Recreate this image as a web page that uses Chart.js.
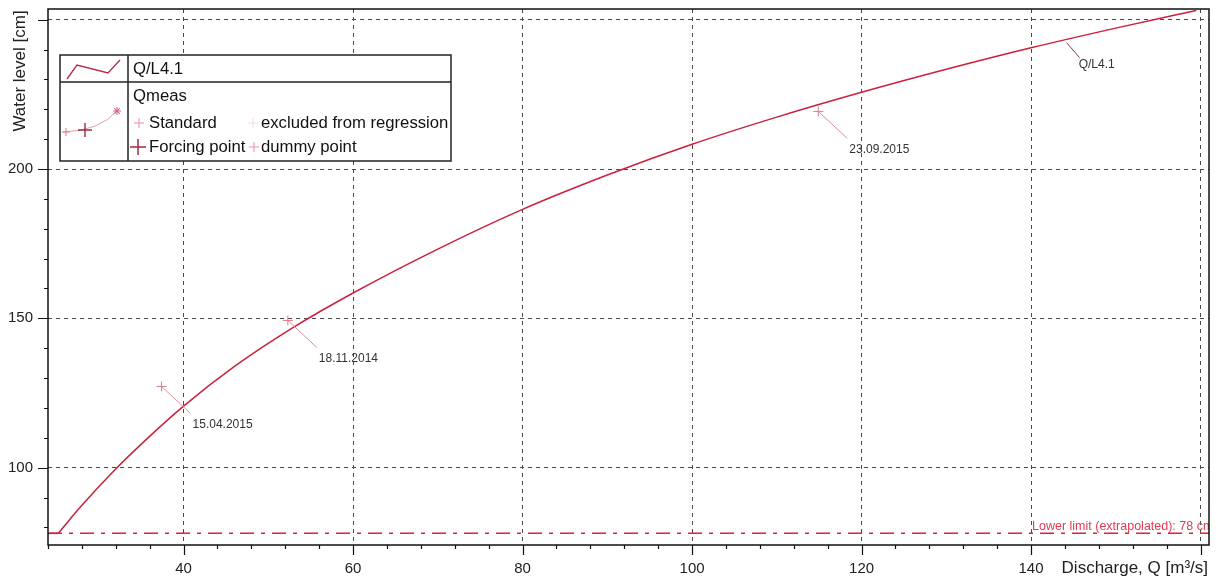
<!DOCTYPE html>
<html>
<head>
<meta charset="utf-8">
<script src="https://cdn.jsdelivr.net/npm/chart.js@4.4.1/dist/chart.umd.min.js"></script>
<style>
  html, body { margin: 0; padding: 0; background: #fff; }
  canvas { display: block; }
</style>
</head>
<body>
<canvas id="chart" width="1218" height="581"></canvas>
<script>
// rating curve Q/L4.1
const curveQ = [25.2, 28, 31.9, 35.2, 40, 46, 52.9, 60, 70, 80, 90, 100, 110, 120, 130, 140, 150, 159.5];
const curveH = [78, 87.4, 99.3, 108.4, 120.6, 133.9, 146.9, 158.5, 173.2, 186.5, 198, 208.3, 217.4, 225.7, 233.4, 240.6, 247.2, 253.1];
// flat start of the curve, on the lower limit
const curveStartQ = [24, 25.2];

// discharge measurements (Standard)
const measQ = [37.4, 52.3, 114.9];
const measH = [127.2, 149.3, 219.3];
const measDates = ['15.04.2015', '18.11.2014', '23.09.2015'];

const lowerLimit = 78;
const curveName = 'Q/L4.1';
const curveLabelQ = 144.2;
const curveLabelH = 242.3;

const xGrid = [40, 60, 80, 100, 120, 140, 160];
const xTickLabels = [40, 60, 80, 100, 120, 140];
const yGrid = [100, 150, 200, 250];
const yTickLabels = [100, 150, 200];

const FONT = "'Liberation Sans', Arial, sans-serif";
const RED = '#cc1f3c';
const PINK = '#e07a8c';
const LEADER = '#d98e9b';

function cross(ctx, x, y, r, color, lw){
  ctx.save();
  ctx.strokeStyle = color; ctx.lineWidth = lw || 1;
  ctx.beginPath();
  ctx.moveTo(x - r, y); ctx.lineTo(x + r, y);
  ctx.moveTo(x, y - r); ctx.lineTo(x, y + r);
  ctx.stroke();
  ctx.restore();
}

// scales keep no label overhang, so the plot box sits where the padding says
function fixScale(size){
  return s => {
    if(s.isHorizontal()) s.height = size; else s.width = size;
    s.paddingTop = 0; s.paddingBottom = 0; s.paddingLeft = 0; s.paddingRight = 0;
  };
}

const decor = {
  id: 'decor',
  afterDatasetsDraw(chart){
    const {ctx, chartArea: a, scales: {x, y}} = chart;
    ctx.save();
    ctx.beginPath(); ctx.rect(a.left, a.top, a.right - a.left, a.bottom - a.top); ctx.clip();

    // leader lines + date labels
    ctx.font = '12px ' + FONT;
    ctx.textBaseline = 'middle'; ctx.textAlign = 'left';
    measQ.forEach((q, i) => {
      const px = x.getPixelForValue(q), py = y.getPixelForValue(measH[i]);
      ctx.strokeStyle = LEADER; ctx.lineWidth = 1;
      ctx.beginPath(); ctx.moveTo(px, py); ctx.lineTo(px + 29, py + 27); ctx.stroke();
      ctx.fillStyle = '#333';
      ctx.fillText(measDates[i], px + 31, py + 38);
    });

    // curve name label
    const cx = x.getPixelForValue(curveLabelQ), cy = y.getPixelForValue(curveLabelH);
    ctx.strokeStyle = '#a03448'; ctx.lineWidth = 1;
    ctx.beginPath(); ctx.moveTo(cx, cy); ctx.lineTo(cx + 13, cy + 15); ctx.stroke();
    ctx.fillStyle = '#333';
    ctx.fillText(curveName, cx + 12, cy + 22);

    // lower limit text
    ctx.font = '12.5px ' + FONT;
    ctx.fillStyle = '#e23a52';
    ctx.fillText('Lower limit (extrapolated): ' + lowerLimit + ' cm', x.getPixelForValue(140) + 1, y.getPixelForValue(lowerLimit) - 7);
    ctx.restore();
  },
  afterDraw(chart){
    const {ctx, chartArea: a, scales: {x, y}} = chart;
    ctx.save();

    // frame
    ctx.strokeStyle = '#111'; ctx.lineWidth = 1.5;
    ctx.strokeRect(a.left, a.top, a.right - a.left, a.bottom - a.top);

    // tick marks
    ctx.lineWidth = 1.2;
    ctx.beginPath();
    for(let v = 24; v <= 160; v += 4){
      const px = Math.round(x.getPixelForValue(v)) + 0.5;
      const len = xGrid.includes(v) ? 10 : 4;
      ctx.moveTo(px, a.bottom); ctx.lineTo(px, a.bottom + len);
    }
    for(let v = 80; v <= 250; v += 10){
      const py = Math.round(y.getPixelForValue(v)) + 0.5;
      const len = yGrid.includes(v) ? 10 : 4;
      ctx.moveTo(a.left, py); ctx.lineTo(a.left - len, py);
    }
    ctx.stroke();

    // axis titles
    ctx.fillStyle = '#222';
    ctx.font = '17px ' + FONT;
    ctx.textAlign = 'right'; ctx.textBaseline = 'middle';
    ctx.fillText('Discharge, Q [m\u00b3/s]', a.right - 1, 568);
    ctx.save();
    ctx.translate(20, 71); ctx.rotate(-Math.PI / 2);
    ctx.textAlign = 'center';
    ctx.fillText('Water level [cm]', 0, 0);
    ctx.restore();

    // legend table
    const L = 60, T = 55, R = 451, B = 161, D = 128, H = 82;
    ctx.fillStyle = '#fff';
    ctx.fillRect(L, T, R - L, B - T);
    ctx.strokeStyle = '#222'; ctx.lineWidth = 1.5;
    ctx.strokeRect(L, T, R - L, B - T);
    ctx.beginPath();
    ctx.moveTo(D, T); ctx.lineTo(D, B);
    ctx.moveTo(L, H); ctx.lineTo(R, H);
    ctx.stroke();

    ctx.strokeStyle = '#b8284a'; ctx.lineWidth = 1.3;
    ctx.beginPath();
    ctx.moveTo(67, 79); ctx.lineTo(77, 65); ctx.lineTo(108, 73); ctx.lineTo(120, 60);
    ctx.stroke();

    ctx.strokeStyle = '#e4a0ac'; ctx.lineWidth = 1;
    ctx.beginPath();
    ctx.moveTo(63, 132); ctx.quadraticCurveTo(100, 131, 118, 110);
    ctx.stroke();
    cross(ctx, 66, 132, 4, '#e07a8c', 1);
    cross(ctx, 85, 130, 7, '#9c2a40', 1.4);
    cross(ctx, 117, 111, 4, '#d0607a', 1);
    ctx.save(); ctx.translate(117, 111); ctx.rotate(Math.PI / 4);
    cross(ctx, 0, 0, 4, '#d0607a', 1); ctx.restore();

    ctx.fillStyle = '#111';
    ctx.font = '16.7px ' + FONT;
    ctx.textAlign = 'left'; ctx.textBaseline = 'middle';
    ctx.fillText(curveName, 133, 69);
    ctx.fillText('Qmeas', 133, 96);
    cross(ctx, 139, 123, 5, '#e8909e', 1);
    ctx.fillText('Standard', 149, 123);
    cross(ctx, 253, 123, 5, '#f6dde1', 1);
    ctx.fillText('excluded from regression', 261, 123);
    cross(ctx, 138, 147, 8, '#a02a40', 1.5);
    ctx.fillText('Forcing point', 149, 147);
    cross(ctx, 254, 147, 5, '#e8909e', 1);
    ctx.fillText('dummy point', 261, 147);

    ctx.restore();
  }
};

const curveData = curveQ.map((q, i) => ({x: q, y: curveH[i]}));
const curveStart = curveStartQ.map(q => ({x: q, y: lowerLimit}));
const measData = measQ.map((q, i) => ({x: q, y: measH[i]}));

new Chart(document.getElementById('chart'), {
  type: 'scatter',
  data: {
    datasets: [
      {
        label: curveName, type: 'line', data: curveData,
        borderColor: RED, borderWidth: 1.5, pointRadius: 0,
        cubicInterpolationMode: 'monotone', fill: false, order: 1
      },
      {
        label: curveName + ' start', type: 'line', data: curveStart,
        borderColor: RED, borderWidth: 1.5, pointRadius: 0, fill: false, order: 1
      },
      {
        label: 'Lower limit', type: 'line',
        data: [{x: 24, y: lowerLimit}, {x: 161, y: lowerLimit}],
        borderColor: '#e0203c', borderWidth: 1.5, borderDash: [14, 7, 4, 7],
        pointRadius: 0, fill: false, order: 2
      },
      {
        label: 'Qmeas', data: measData,
        pointStyle: 'cross', pointRadius: 5, borderWidth: 1,
        borderColor: PINK, backgroundColor: PINK, order: 0
      }
    ]
  },
  options: {
    responsive: false,
    animation: false,
    devicePixelRatio: 1,
    layout: { padding: { top: 9, right: 9, left: 0, bottom: 0 } },
    plugins: { legend: { display: false }, tooltip: { enabled: false } },
    scales: {
      x: {
        type: 'linear', min: 24, max: 161,
        afterBuildTicks: s => { s.ticks = xGrid.map(v => ({value: v})); },
        afterFit: fixScale(36),
        grid: { color: '#4a4a4a', lineWidth: 1, drawTicks: false },
        border: { display: false, dash: [4, 4] },
        ticks: {
          padding: 15, color: '#222', maxRotation: 0, autoSkip: false,
          font: { size: 15, family: FONT },
          callback: v => xTickLabels.includes(v) ? String(v) : ''
        }
      },
      y: {
        type: 'linear', min: 74.1, max: 253.6,
        afterBuildTicks: s => { s.ticks = yGrid.map(v => ({value: v})); },
        afterFit: fixScale(48),
        grid: { color: '#4a4a4a', lineWidth: 1, drawTicks: false },
        border: { display: false, dash: [4, 4] },
        ticks: {
          padding: 15, color: '#222', autoSkip: false,
          font: { size: 15, family: FONT },
          callback: v => yTickLabels.includes(v) ? String(v) : ''
        }
      }
    }
  },
  plugins: [decor]
});
</script>
</body>
</html>
